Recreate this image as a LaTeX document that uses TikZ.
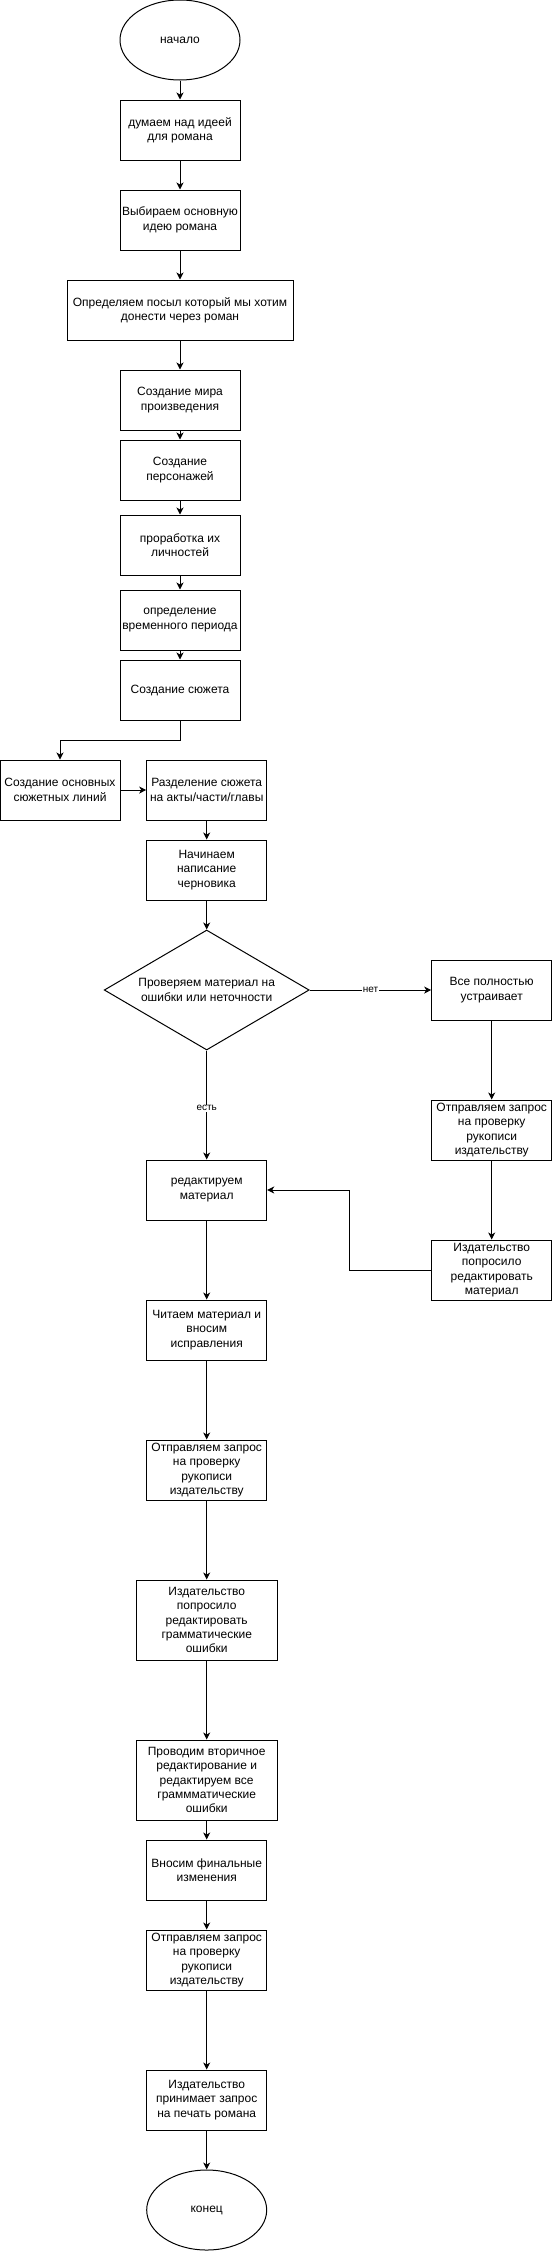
\documentclass[tikz,border=0pt]{standalone}
\usepackage{fontspec}
\setmainfont{Liberation Sans}
\usetikzlibrary{shapes.geometric,arrows.meta}
\begin{document}
\begin{tikzpicture}[x=1pt,y=-1pt,
  every node/.style={font=\fontsize{12}{14.4}\selectfont, align=center, inner sep=0pt},
  stepbox/.style={draw, line width=1pt, rectangle, minimum width=120pt, minimum height=60pt},
  widebox/.style={stepbox, minimum width=140.7pt, minimum height=80pt},
  termnode/.style={draw, line width=1pt, ellipse, minimum width=120pt, minimum height=80pt},
  decision/.style={draw, line width=1pt, diamond, aspect=1.7, minimum width=205pt, minimum height=120pt},
  arr/.style={line width=1pt, -{Stealth[length=7pt,width=7pt,inset=2pt]}},
  lbl/.style={fill=white, font=\fontsize{10}{12}\selectfont, inner sep=1pt}
]
\useasboundingbox (0,0) rectangle (552,2251);

\node[termnode] (start) at (180,40) {начало};
\node[stepbox] (b1) at (180,130) {думаем над идеей\\для романа};
\node[stepbox] (b2) at (180,220) {Выбираем основную\\идею романа};
\node[stepbox, minimum width=226pt] (b3) at (180,310) {Определяем посыл который мы хотим\\донести через роман};
\node[stepbox] (b4) at (180,400) {Создание мира\\произведения};
\node[stepbox] (b5) at (180,470) {Создание\\персонажей};
\node[stepbox] (b6) at (180,545) {проработка их\\личностей};
\node[stepbox] (b7) at (180,620) {определение\\временного периода};
\node[stepbox] (b8) at (180,690) {Создание сюжета};
\node[stepbox] (b9) at (60,790) {Создание основных\\сюжетных линий};
\node[stepbox] (b10) at (206.7,790) {Разделение сюжета\\на акты/части/главы};
\node[stepbox] (b11) at (206.7,870) {Начинаем\\написание\\черновика};
\node[decision] (d) at (206.7,990) {Проверяем материал на\\ошибки или неточности};
\node[stepbox] (r1) at (491.7,990) {Все полностью\\устраивает};
\node[stepbox] (r2) at (491.7,1130) {Отправляем запрос\\на проверку\\рукописи\\издательству};
\node[stepbox] (r3) at (491.7,1270) {Издательство\\попросило\\редактировать\\материал};
\node[stepbox] (e1) at (206.7,1190) {редактируем\\материал};
\node[stepbox] (e2) at (206.7,1330) {Читаем материал и\\вносим\\исправления};
\node[stepbox] (e3) at (206.7,1470) {Отправляем запрос\\на проверку\\рукописи\\издательству};
\node[widebox] (e4) at (206.7,1620) {Издательство\\попросило\\редактировать\\грамматические\\ошибки};
\node[widebox] (e5) at (206.7,1780) {Проводим вторичное\\редактирование и\\редактируем все\\граммматические\\ошибки};
\node[stepbox] (e6) at (206.7,1870) {Вносим финальные\\изменения};
\node[stepbox] (e7) at (206.7,1960) {Отправляем запрос\\на проверку\\рукописи\\издательству};
\node[stepbox] (e8) at (206.7,2100) {Издательство\\принимает запрос\\на печать романа};
\node[termnode] (end) at (206.7,2210) {конец};

\coordinate (k1) at (180,740);
\coordinate (k2) at (60,740);
\coordinate (k3) at (349,1270);
\coordinate (k4) at (349,1190);

\draw[arr] (start) -- (b1);
\draw[arr] (b1) -- (b2);
\draw[arr] (b2) -- (b3);
\draw[arr] (b3) -- (b4);
\draw[arr] (b4) -- (b5);
\draw[arr] (b5) -- (b6);
\draw[arr] (b6) -- (b7);
\draw[arr] (b7) -- (b8);
\draw[arr] (b8.south) -- (k1) -- (k2) -- (b9.north);
\draw[arr] (b9) -- (b10);
\draw[arr] (b10) -- (b11);
\draw[arr] (b11) -- (d);
\draw[arr] (d) -- node[lbl] {нет} (r1);
\draw[arr] (d.south) -- node[lbl, pos=0.53] {есть} (e1.north);
\draw[arr] (r1) -- (r2);
\draw[arr] (r2) -- (r3);
\draw[arr] (r3.west) -- (k3) -- (k4) -- (e1.east);
\draw[arr] (e1) -- (e2);
\draw[arr] (e2) -- (e3);
\draw[arr] (e3) -- (e4);
\draw[arr] (e4) -- (e5);
\draw[arr] (e5) -- (e6);
\draw[arr] (e6) -- (e7);
\draw[arr] (e7) -- (e8);
\draw[arr] (e8) -- (end);
\end{tikzpicture}
\end{document}
